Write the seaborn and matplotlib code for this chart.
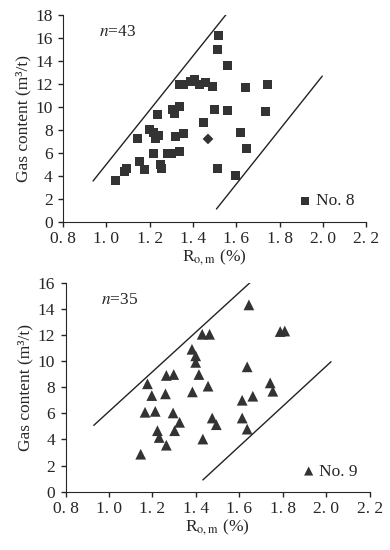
import matplotlib
matplotlib.use('Agg')
import matplotlib.pyplot as plt
import seaborn as sns
import pandas as pd

# Coal seam No. 8 (squares)
ro_no8 = [1.518, 1.512, 1.557, 1.338, 1.357, 1.388, 1.409, 1.431, 1.458, 1.489,
          1.643, 1.742, 1.305, 1.315, 1.338, 1.234, 1.498, 1.557, 1.735, 1.449,
          1.197, 1.215, 1.242, 1.228, 1.143, 1.320, 1.357, 1.620, 1.649, 1.215,
          1.280, 1.300, 1.338, 1.154, 1.251, 1.254, 1.177, 1.085, 1.092, 1.042,
          1.515, 1.594]
gas_no8 = [16.2, 15.0, 13.6, 11.9, 11.9, 12.2, 12.4, 11.9, 12.1, 11.8,
           11.7, 11.9, 9.8, 9.4, 10.0, 9.3, 9.8, 9.7, 9.6, 8.6,
           8.0, 7.8, 7.5, 7.2, 7.2, 7.4, 7.7, 7.8, 6.4, 5.9,
           5.9, 5.9, 6.1, 5.2, 5.0, 4.6, 4.5, 4.4, 4.6, 3.6,
           4.6, 4.0]
# the one diamond point in the No. 8 panel
ro_no8_d = [1.469]
gas_no8_d = [7.2]

# Coal seam No. 9 (triangles)
ro_no9 = [1.644, 1.429, 1.463, 1.788, 1.809, 1.382, 1.399, 1.399, 1.636, 1.264,
          1.298, 1.414, 1.177, 1.742, 1.456, 1.754, 1.384, 1.197, 1.260, 1.662,
          1.613, 1.166, 1.213, 1.295, 1.613, 1.475, 1.494, 1.325, 1.223, 1.302,
          1.636, 1.231, 1.432, 1.264, 1.146]
gas_no9 = [14.3, 12.05, 12.05, 12.26, 12.3, 10.9, 10.4, 9.9, 9.56, 8.9,
           8.97, 8.97, 8.26, 8.33, 8.08, 7.69, 7.64, 7.36, 7.49, 7.31,
           7.0, 6.08, 6.15, 6.03, 5.64, 5.64, 5.13, 5.31, 4.67, 4.67,
           4.79, 4.15, 4.03, 3.56, 2.87]

# envelope lines (x pair, y pair)
upper8_x, upper8_y = [0.938, 1.554], [3.54, 18.06]
lower8_x, lower8_y = [1.508, 1.997], [1.10, 12.67]
upper9_x, upper9_y = [0.930, 1.662], [5.08, 16.2]
lower9_x, lower9_y = [1.432, 2.022], [0.90, 9.95]

xticks = [0.8, 1.0, 1.2, 1.4, 1.6, 1.8, 2.0, 2.2]

sns.set_style('ticks')
plt.rcParams['font.family'] = ['Liberation Serif', 'DejaVu Serif']
plt.rcParams['mathtext.fontset'] = 'stix'

fig = plt.figure(figsize=(3.9, 5.5), dpi=100)
ax1 = fig.add_axes([0.162, 0.597, 0.777, 0.376])
ax2 = fig.add_axes([0.168, 0.106, 0.780, 0.380])

mcol = '#333333'
fs = 12.5

df8 = pd.DataFrame({'ro': ro_no8, 'gas': gas_no8})
sns.scatterplot(data=df8, x='ro', y='gas', marker='s', s=42, color=mcol,
                edgecolor='none', ax=ax1, label='No. 8')
sns.scatterplot(x=ro_no8_d, y=gas_no8_d, marker='D', s=30, color=mcol,
                edgecolor='none', ax=ax1)
ax1.plot(upper8_x, upper8_y, color='#222222', lw=1.0)
ax1.plot(lower8_x, lower8_y, color='#222222', lw=1.0)

df9 = pd.DataFrame({'ro': ro_no9, 'gas': gas_no9})
sns.scatterplot(data=df9, x='ro', y='gas', marker='^', s=60, color=mcol,
                edgecolor='none', ax=ax2, label='No. 9')
ax2.plot(upper9_x, upper9_y, color='#222222', lw=1.0)
ax2.plot(lower9_x, lower9_y, color='#222222', lw=1.0)

for ax, ymax, txt in [(ax1, 18, '$n$=43'), (ax2, 16, '$n$=35')]:
    ax.set_xlim(0.8, 2.2)
    ax.set_ylim(0, ymax)
    ax.set_xticks(xticks)
    ax.set_xticklabels([f'{v:.1f}'.replace('.', '. ') for v in xticks])
    ax.set_yticks(range(0, ymax + 1, 2))
    ax.tick_params(labelsize=fs, length=3.5, width=1, direction='out')
    ax.tick_params(axis='x', pad=3)
    ax.tick_params(axis='y', pad=4)
    sns.despine(ax=ax)
    ax.set_xlabel('R$_{\\mathrm{o,m}}$ (%)', fontsize=fs, labelpad=0)
    ax.set_ylabel('Gas content (m³/t)', fontsize=fs, labelpad=3)
    ax.text(0.965, ymax * 0.915, txt, fontsize=fs, ha='left', va='center')
    leg = ax.legend(loc='lower right', frameon=False, fontsize=fs,
                    handletextpad=0.0, handlelength=1.2, borderaxespad=0.3,
                    markerscale=0.85)

fig.savefig('out.png', dpi=100)
